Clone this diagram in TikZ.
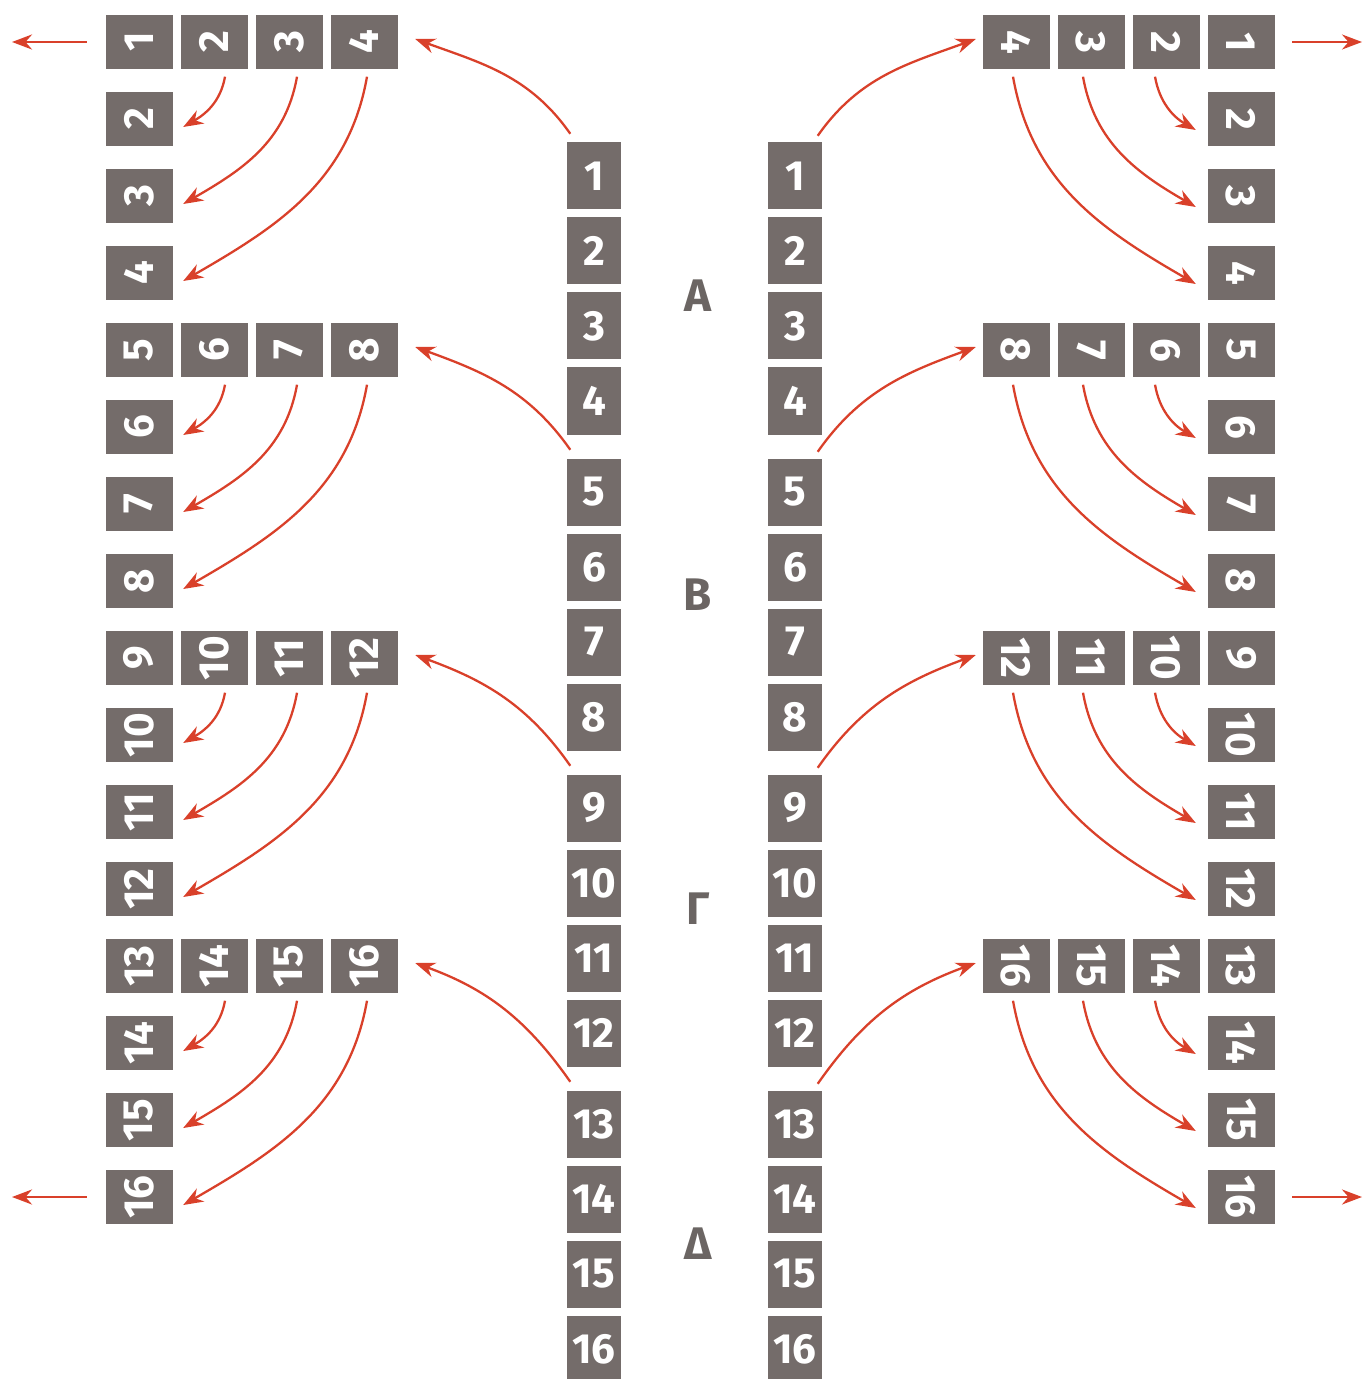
\documentclass[tikz,border=0pt]{standalone}
\usepackage{fontspec}
\setmainfont{Fira Sans}
\usetikzlibrary{arrows.meta}
\definecolor{boxgray}{HTML}{746C6A}
\definecolor{arrred}{HTML}{D9402A}
\definecolor{lblgray}{HTML}{6B6563}

\begin{document}
\begin{tikzpicture}[x=0.1mm,y=0.1mm,font=\bfseries\fontsize{12}{14}\selectfont,
 cbox/.style={fill=boxgray,text=white,inner sep=0pt,minimum width=5.4mm,minimum height=6.7mm},
 obox/.style={fill=boxgray,text=white,inner sep=0pt,minimum width=6.7mm,minimum height=5.4mm},
 arr/.style={draw=arrred,line width=0.65pt,-{Stealth[length=2mm,width=1.5mm]}},
 lbl/.style={text=lblgray,font=\bfseries\fontsize{13}{15}\selectfont},
 >=Stealth]
\useasboundingbox (0,0) rectangle (1364,-1379);
% middle columns
\foreach \g in {1,...,4}
 \foreach \k in {1,...,4}{
  \pgfmathtruncatemacro{\n}{4*(\g-1)+\k}
  \pgfmathsetmacro{\y}{-(176+316*(\g-1)+75*(\k-1))}
  \node[cbox] (cl\n) at (594,\y) {\n};
  \node[cbox] (cr\n) at (795,\y) {\n};
 }
\node[lbl] (alpha) at (698,-296) {Α};
\node[lbl] (beta) at (698,-595) {Β};
\node[lbl] (gamma) at (698,-909) {Γ};
\node[lbl] (delta) at (698,-1244) {Δ};
% outer rows and columns
\foreach \g in {1,...,4}{
 \pgfmathsetmacro{\y}{-(42+308*(\g-1))}
 \foreach \k in {1,...,4}{
  \pgfmathtruncatemacro{\n}{4*(\g-1)+\k}
  \node[obox] (lh\n) at (139+75*\k-75,\y) {\rotatebox{90}{\n}};
  \node[obox] (rh\n) at (1241-75*\k+75,\y) {\rotatebox{-90}{\n}};
 }
 \foreach \k in {2,3,4}{
  \pgfmathtruncatemacro{\n}{4*(\g-1)+\k}
  \node[obox] (lv\n) at (139,\y-77*\k+77) {\rotatebox{90}{\n}};
  \node[obox] (rv\n) at (1241,\y-77*\k+77) {\rotatebox{-90}{\n}};
 }
}
% arrows
\foreach \g in {1,...,4}{
 \pgfmathtruncatemacro{\a}{4*\g-3}
 \pgfmathtruncatemacro{\d}{4*\g}
 \draw[arr] ([shift={(0.4mm,0.8mm)}]cl\a.north west) to[out=125,in=-20] ([shift={(1.7mm,0.3mm)}]lh\d.east);
 \draw[arr] ([shift={(-0.5mm,0.6mm)}]cr\a.north east) to[out=55,in=200] ([shift={(-0.6mm,0.3mm)}]rh\d.west);
 \foreach \k/\s in {1/1.1,2/0.8,3/0.3}{
  \pgfmathtruncatemacro{\n}{\a+\k}
  \draw[arr] ([shift={(\s mm,-0.7mm)}]lh\n.south) to[out=-100,in=30] ([shift={(1mm,-0.8mm)}]lv\n.east);
  \draw[arr] ([shift={(-\s mm,-0.7mm)}]rh\n.south) to[out=-80,in=150] ([shift={(-1.1mm,-1.1mm)}]rv\n.west);
 }
}
\coordinate (outl) at (12,0);
\coordinate (outr) at (1362,0);
\draw[arr,line width=0.8pt,shorten <=1.8mm] (lh1.west) -- (lh1.west -| outl);
\draw[arr,line width=0.8pt,shorten <=1.8mm] (lv16.west) -- (lv16.west -| outl);
\draw[arr,shorten <=1.7mm] (rh1.east) -- (rh1.east -| outr);
\draw[arr,shorten <=1.7mm] (rv16.east) -- (rv16.east -| outr);
\end{tikzpicture}
\end{document}
